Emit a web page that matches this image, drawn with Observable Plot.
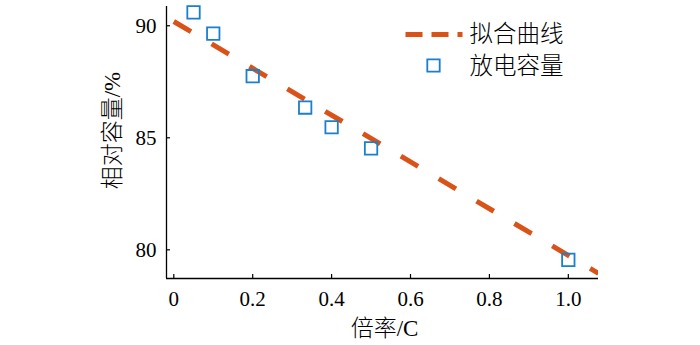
<!DOCTYPE html>
<html>
<head>
<meta charset="utf-8">
<script src="https://cdn.jsdelivr.net/npm/d3@7"></script>
<script src="https://cdn.jsdelivr.net/npm/@observablehq/plot@0.6"></script>
<style>
  html, body { margin: 0; padding: 0; background: #fff; }
</style>
</head>
<body>
<div id="chart"></div>
<script>
// Data
const rate = [0.05, 0.1, 0.2, 0.333, 0.4, 0.5, 1.0];
const capacity = [90.6, 89.65, 87.75, 86.35, 85.47, 84.53, 79.55];
const fitRate = [0, 1.0765];
const fitCapacity = [90.19, 78.95];

const xTicks = [0, 0.2, 0.4, 0.6, 0.8, 1.0];
const xTickLabels = ["0", "0.2", "0.4", "0.6", "0.8", "1.0"];
const yTicks = [80, 85, 90];
const xDomain = [-0.0185, 1.0765];
const yDomain = [78.72, 90.86];

const xLabel = "倍率/C";
const yLabel = "相对容量/%";
const legendLabels = ["拟合曲线", "放电容量"];

const orange = "#d95319";
const blue = "#1a7fcc";
const cjk = "'Liberation Serif', 'Noto Sans CJK SC', serif";

const points = rate.map((r, i) => ({rate: r, cap: capacity[i]}));
const fit = fitRate.map((r, i) => ({rate: r, cap: fitCapacity[i]}));

const lineShape = {draw(ctx, l) { ctx.moveTo(0, 0); ctx.lineTo(0, -l); }};

const chart = Plot.plot({
  width: 700,
  height: 345,
  marginLeft: 166,
  marginRight: 102,
  marginTop: 6,
  marginBottom: 67,
  style: {fontFamily: "'Liberation Serif', 'Times New Roman', serif", fontSize: "21px", color: "#000", background: "#fff"},
  x: {domain: xDomain},
  y: {domain: yDomain},
  marks: [
    Plot.axisX(xTicks, {tickSize: 0, tickPadding: 13, label: null, tickFormat: d => xTickLabels[xTicks.indexOf(d)], fontSize: 21}),
    Plot.axisY(yTicks, {tickSize: 0, tickPadding: 10, label: null, fontSize: 21}),
    Plot.ruleX(xTicks, {x: d => d, insetTop: 268, stroke: "#000", strokeWidth: 1.2}),
    Plot.ruleY(yTicks, {y: d => d, insetRight: 428, stroke: "#000", strokeWidth: 1.2}),
    Plot.ruleX([xDomain[0]], {stroke: "#000", strokeWidth: 1.3}),
    Plot.ruleY([yDomain[0]], {stroke: "#000", strokeWidth: 1.3}),
    Plot.line(fit, {x: "rate", y: "cap", stroke: orange, strokeWidth: 5, strokeDasharray: "20,24", strokeLinecap: "butt", clip: true}),
    Plot.dot(points, {x: "rate", y: "cap", symbol: "square", r: 7, stroke: blue, strokeWidth: 1.8, fill: "none"}),
    // axis titles
    Plot.text([xLabel], {frameAnchor: "bottom", textAnchor: "middle", dx: 2, dy: 50, lineAnchor: "middle", fontSize: 23, fontWeight: 300, fontFamily: cjk, fill: "#000"}),
    Plot.text([yLabel], {frameAnchor: "left", textAnchor: "middle", rotate: -90, dx: -54, dy: -12, lineAnchor: "middle", fontSize: 23, fontWeight: 300, fontFamily: cjk, fill: "#000"}),
    // legend
    Plot.vector([0], {frameAnchor: "top-left", dx: 239, dy: 28, rotate: 90, length: 57, anchor: "start", shape: lineShape, stroke: orange, strokeWidth: 5, strokeDasharray: "17,9", strokeLinecap: "butt"}),
    Plot.text([legendLabels[0]], {frameAnchor: "top-left", dx: 303, dy: 28, textAnchor: "start", lineAnchor: "middle", fontSize: 23.5, fontWeight: 300, fontFamily: cjk, fill: "#000"}),
    Plot.dot([0], {frameAnchor: "top-left", dx: 267, dy: 59, symbol: "square", r: 7, stroke: blue, strokeWidth: 1.8, fill: "none"}),
    Plot.text([legendLabels[1]], {frameAnchor: "top-left", dx: 303, dy: 60, textAnchor: "start", lineAnchor: "middle", fontSize: 23.5, fontWeight: 300, fontFamily: cjk, fill: "#000"})
  ]
});
document.getElementById("chart").appendChild(chart);
</script>
</body>
</html>
